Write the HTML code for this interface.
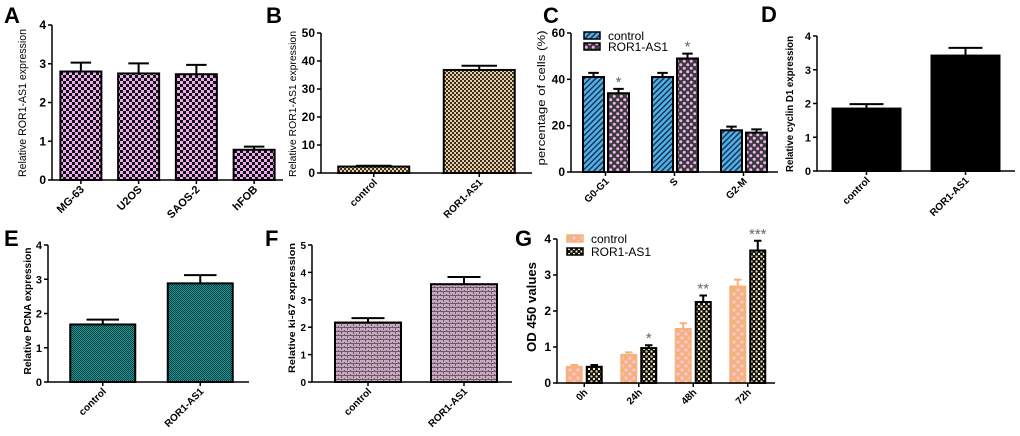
<!DOCTYPE html>
<html><head><meta charset="utf-8"><style>
html,body{margin:0;padding:0;background:#fff;}
svg{display:block;font-family:"Liberation Sans",Arial,sans-serif;}
</style></head><body>
<svg id="fig" width="1020" height="436" viewBox="0 0 1020 436" xmlns="http://www.w3.org/2000/svg">
<defs>
<pattern id="pA" width="6" height="6" patternUnits="userSpaceOnUse"><rect width="6" height="6" fill="#eeaaee"/><rect width="3" height="3" fill="#111"/><rect x="3" y="3" width="3" height="3" fill="#111"/></pattern>
<pattern id="pB" width="4" height="4" patternUnits="userSpaceOnUse"><rect width="4" height="4" fill="#e6cfa4"/><rect width="2" height="2" fill="#3a2e22"/><rect x="2" y="2" width="2" height="2" fill="#3a2e22"/></pattern>
<pattern id="pCc" width="4" height="4" patternUnits="userSpaceOnUse" patternTransform="rotate(45)"><rect width="4" height="4" fill="#4fb0ea"/><rect width="1.5" height="4" fill="#1a3550"/></pattern>
<pattern id="pCr" width="7" height="7" patternUnits="userSpaceOnUse"><rect width="7" height="7" fill="#3a3a3a"/><circle cx="1.75" cy="1.75" r="1.5" fill="#f4b0f4"/><circle cx="5.25" cy="5.25" r="1.5" fill="#f4b0f4"/></pattern>
<pattern id="pE" width="2" height="2" patternUnits="userSpaceOnUse"><rect width="2" height="2" fill="#1f9a9a"/><rect width="1" height="1" fill="#0b3b3b"/><rect x="1" y="1" width="1" height="1" fill="#0b3b3b"/></pattern>
<pattern id="pF" width="6" height="4" patternUnits="userSpaceOnUse"><rect width="6" height="4" fill="#6e5868"/><rect width="5" height="2" fill="#c9a9c0"/><rect x="0" y="2" width="2" height="1" fill="#c9a9c0"/><rect x="3" y="2" width="3" height="1" fill="#c9a9c0"/></pattern>
<pattern id="pGc" width="8" height="8" patternUnits="userSpaceOnUse"><rect width="8" height="8" fill="#f6b27c"/><circle cx="2" cy="2" r="1.6" fill="#f6c6e0"/><circle cx="6" cy="6" r="1.6" fill="#f6c6e0"/></pattern>
<pattern id="pGr" width="5" height="5" patternUnits="userSpaceOnUse"><rect width="5" height="5" fill="#111"/><rect x="0.5" y="0.5" width="2" height="2" fill="#f2e8b8"/><rect x="3" y="3" width="2" height="2" fill="#f2e8b8"/></pattern>
</defs>
</svg>
<script>
// ---- data ----
const catsA = ["MG-63","U2OS","SAOS-2","hFOB"];
const valsA = [2.8, 2.75, 2.73, 0.78];
const errA = [3.03, 3.01, 2.97, 0.86];
const ticksA = [0,1,2,3,4];

const catsB = ["control","ROR1-AS1"];
const valsB = [2.3, 36.8];
const errB = [2.6, 38.3];
const ticksB = [0,10,20,30,40,50];

const catsC = ["G0-G1","S","G2-M"];
const seriesC = ["control","ROR1-AS1"];
const valsCctrl = [41, 41, 18];
const errCctrl = [42.8, 42.8, 19.6];
const valsCror = [34, 49, 17];
const errCror = [35.9, 51.1, 18.4];
const starsC = ["*","*",""];
const ticksC = [0,20,40,60];

const catsD = ["control","ROR1-AS1"];
const valsD = [1.85, 3.42];
const errD = [1.98, 3.65];
const ticksD = [0,1,2,3,4];

const catsE = ["control","ROR1-AS1"];
const valsE = [1.68, 2.88];
const errE = [1.82, 3.12];
const ticksE = [0,1,2,3,4];

const catsF = ["control","ROR1-AS1"];
const valsF = [2.17, 3.57];
const errF = [2.33, 3.83];
const ticksF = [0,1,2,3,4,5];

const catsG = ["0h","24h","48h","72h"];
const seriesG = ["control","ROR1-AS1"];
const valsGctrl = [0.45, 0.78, 1.5, 2.68];
const errGctrl = [0.5, 0.85, 1.66, 2.87];
const valsGror = [0.45, 0.97, 2.25, 3.68];
const errGror = [0.5, 1.05, 2.43, 3.95];
const starsG = ["","*","**","***"];
const ticksG = [0,1,2,3,4];

// ---- helpers ----
const NS = "http://www.w3.org/2000/svg";
const svg = document.getElementById("fig");
function mk(tag, attrs, parent, text){
  const e = document.createElementNS(NS, tag);
  for (const k in attrs) e.setAttribute(k, attrs[k]);
  if (text !== undefined) e.textContent = text;
  (parent||svg).appendChild(e);
  return e;
}
function panel(p){
  const g = mk("g",{});
  
  
  const ys = v => p.y0 - (v - p.ymin)/(p.ymax - p.ymin)*(p.y0 - p.y1);
  const band = (p.x1 - p.x0 - p.pad)/p.cats.length;
  const xc = i => p.x0 + p.pad + (i+0.5)*band;
  const L = mk("text",{x:p.lx,y:p.ly,"font-size":22,"font-weight":"bold",fill:"#000"},g,p.letter);
  
  
  const yl = mk("text",{x:0,y:0,"font-size":p.ylfs,"font-weight":p.ylbold?"bold":"normal","text-anchor":"middle",fill:"#000",
    transform:`translate(${p.ylx},${p.ylc}) rotate(-90)`,textLength:p.yllen,lengthAdjust:"spacingAndGlyphs"},g,p.ylabel);
  
  
  p.series.forEach((s,si)=>{
    s.vals.forEach((v,i)=>{
      const cx = xc(i) + s.off;
      const top = ys(v), et = ys(s.err[i]);
      const eb = mk("path",{d:`M${cx} ${top} V${et} M${cx-s.w/4} ${et} H${cx+s.w/4}`,stroke:s.estroke||"#000","stroke-width":2,fill:"none"},g);
      
      
      const r = mk("rect",{x:cx-s.w/2,y:top,width:s.w,height:ys(p.ymin)-top,fill:s.fill,stroke:s.stroke||"#000","stroke-width":2},g);
      
      
      if (s.stars && s.stars[i]){
        const st = mk("text",{x:cx,y:et-2,"font-size":15,"text-anchor":"middle",fill:"#666"},g,s.stars[i]);
        
        
      }
    });
  });
  const ax = mk("path",{d:`M${p.x0} ${ys(p.ymax)} V${p.y0} H${p.x1}`,stroke:"#000","stroke-width":1.5,fill:"none"},g);
  
  
  p.ticks.forEach(t=>{
    const y = ys(t);
    mk("line",{x1:p.x0-4,x2:p.x0,y1:y,y2:y,stroke:"#000","stroke-width":1.5},g);
    const tl = mk("text",{x:p.x0-6,y:y+4,"font-size":p.tfs,"font-weight":"bold","text-anchor":"end",fill:"#000"},g,String(t));
    
    
  });
  p.cats.forEach((c,i)=>{
    const x = xc(i);
    mk("line",{x1:x,x2:x,y1:p.y0,y2:p.y0+4,stroke:"#000","stroke-width":1.5},g);
    const xl = mk("text",{x:0,y:0,"font-size":p.xfs,"font-weight":"bold","text-anchor":"end",fill:"#000",
      transform:`translate(${x+4},${p.y0+10}) rotate(-45)`},g,c);
    
    
  });
  if (p.legend){
    p.legend.forEach((l,li)=>{
      const lg = mk("g",{},g);
      
      
      mk("rect",{x:p.legx,y:p.legy+li*p.legdy,width:16,height:7,fill:l.fill,stroke:l.stroke,"stroke-width":1.5},lg);
      mk("text",{x:p.legx+24,y:p.legy+li*p.legdy+8,"font-size":12,fill:"#000"},lg,l.name);
    });
  }
}

panel({name:"panel-a",letter:"A",lx:4,ly:23,cats:catsA,ticks:ticksA,ymin:0,ymax:4,x0:52,x1:283,pad:0,y0:180,y1:25,
  ylabel:"Relative ROR1-AS1 expression",ylx:26,ylc:103,yllen:148,ylfs:11,ylbold:false,tfs:12,xfs:11,
  series:[{name:"value",vals:valsA,err:errA,fill:"url(#pA)",w:41,off:0}]});
panel({name:"panel-b",letter:"B",lx:266,ly:23,cats:catsB,ticks:ticksB,ymin:0,ymax:50,x0:321,x1:532,pad:0,y0:173,y1:33,
  ylabel:"Relative ROR1-AS1 expression",ylx:296,ylc:104,yllen:146,ylfs:10,ylbold:false,tfs:12,xfs:10,
  series:[{name:"value",vals:valsB,err:errB,fill:"url(#pB)",w:71,off:0}]});
panel({name:"panel-c",letter:"C",lx:543,ly:23,cats:catsC,ticks:ticksC,ymin:0,ymax:60,x0:571,x1:778,pad:0,y0:172,y1:33,
  ylabel:"percentage of cells (%)",ylx:545,ylc:98,yllen:135,ylfs:11,ylbold:false,tfs:12,xfs:10,
  series:[{name:"control",vals:valsCctrl,err:errCctrl,fill:"url(#pCc)",w:21,off:-12},
          {name:"ROR1-AS1",vals:valsCror,err:errCror,fill:"url(#pCr)",w:21,off:13,stars:starsC}],
  legend:[{name:seriesC[0],fill:"url(#pCc)",stroke:"#000"},{name:seriesC[1],fill:"url(#pCr)",stroke:"#000"}],legx:584,legy:32,legdy:11});
panel({name:"panel-d",letter:"D",lx:761,ly:22,cats:catsD,ticks:ticksD,ymin:0,ymax:4,x0:817,x1:1015,pad:0,y0:171,y1:36,
  ylabel:"Relative cyclin D1 expression",ylx:793,ylc:104,yllen:136,ylfs:10,ylbold:true,tfs:11,xfs:10,
  series:[{name:"value",vals:valsD,err:errD,fill:"#000",w:68,off:0}]});
panel({name:"panel-e",letter:"E",lx:4,ly:246,cats:catsE,ticks:ticksE,ymin:0,ymax:4,x0:48,x1:249,pad:6,y0:382,y1:245,
  ylabel:"Relative PCNA expression",ylx:31,ylc:311,yllen:127,ylfs:10,ylbold:true,tfs:11,xfs:10,
  series:[{name:"value",vals:valsE,err:errE,fill:"url(#pE)",w:65,off:0}]});
panel({name:"panel-f",letter:"F",lx:265,ly:246,cats:catsF,ticks:ticksF,ymin:0,ymax:5,x0:312,x1:512,pad:8,y0:382,y1:245,
  ylabel:"Relative ki-67 expression",ylx:295,ylc:308,yllen:130,ylfs:9,ylbold:true,tfs:10,xfs:10,
  series:[{name:"value",vals:valsF,err:errF,fill:"url(#pF)",w:66,off:0}]});
panel({name:"panel-g",letter:"G",lx:515,ly:246,cats:catsG,ticks:ticksG,ymin:0,ymax:4,x0:557,x1:775,pad:0,y0:383,y1:239,
  ylabel:"OD 450 values",ylx:536,ylc:307,yllen:90,ylfs:13,ylbold:true,tfs:12,xfs:10,
  series:[{name:"control",vals:valsGctrl,err:errGctrl,fill:"url(#pGc)",stroke:"#f6b27c",estroke:"#f6b27c",w:15,off:-10},
          {name:"ROR1-AS1",vals:valsGror,err:errGror,fill:"url(#pGr)",w:15,off:10,stars:starsG}],
  legend:[{name:seriesG[0],fill:"url(#pGc)",stroke:"#f6b27c"},{name:seriesG[1],fill:"url(#pGr)",stroke:"#000"}],legx:567,legy:235,legdy:13});
</script>
</body></html>
